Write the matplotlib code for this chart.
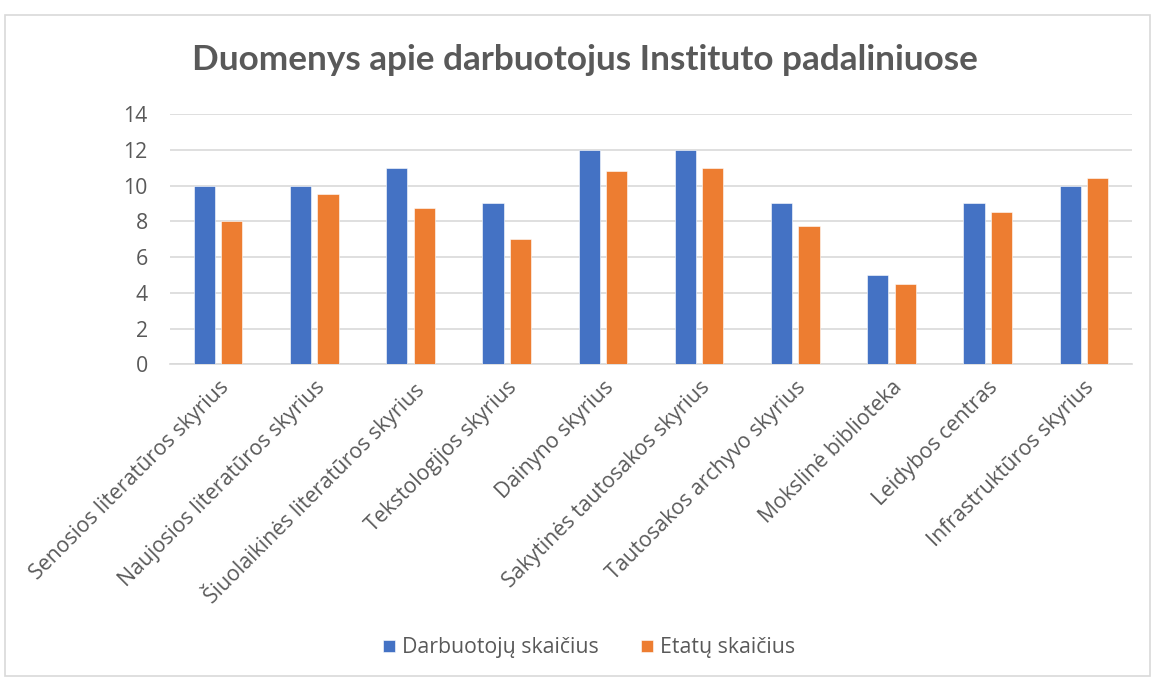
import numpy as np
import matplotlib.pyplot as plt
from matplotlib.patches import Rectangle

categories = ['Senosios literatūros skyrius', 'Naujosios literatūros skyrius',
              'Šiuolaikinės literatūros skyrius', 'Tekstologijos skyrius',
              'Dainyno skyrius', 'Sakytinės tautosakos skyrius',
              'Tautosakos archyvo skyrius', 'Mokslinė biblioteka',
              'Leidybos centras', 'Infrastruktūros skyrius']
darbuotoju = [10, 10, 11, 9, 12, 12, 9, 5, 9, 10]
etatu = [8, 9.5, 8.75, 7, 10.8, 11, 7.75, 4.5, 8.5, 10.4]
series_names = ['Darbuotojų skaičius', 'Etatų skaičius']

plt.rcParams['font.family'] = ['Open Sans', 'DejaVu Sans']
grey = '#595959'

fig = plt.figure(figsize=(11.51, 6.77), dpi=100)
ax = fig.add_axes([170/1151, 1 - 364.3/677, 962/1151, 250.3/677])

x = np.arange(len(categories))
w = 0.22
ax.bar(x - 0.142, darbuotoju, w, color='#4472c4', edgecolor='white', linewidth=0.4,
       label=series_names[0], zorder=3)
ax.bar(x + 0.142, etatu, w, color='#ed7d31', edgecolor='white', linewidth=0.4,
       label=series_names[1], zorder=3)

ax.set_xlim(-0.5, len(categories) - 0.5)
ax.set_ylim(0, 14)
ax.set_yticks(range(0, 15, 2))
ax.yaxis.grid(True, color='#d9d9d9', linewidth=1.2, zorder=0)
for s in ['top', 'right', 'left']:
    ax.spines[s].set_visible(False)
ax.spines['bottom'].set_color('#d9d9d9')
ax.spines['bottom'].set_linewidth(1.2)
ax.tick_params(axis='both', length=0, colors=grey, labelsize=15.3)
ax.tick_params(axis='y', pad=16)
ax.set_xticks(x)
ax.set_xticklabels(categories, rotation=45, ha='right', rotation_mode='anchor')
ax.tick_params(axis='x', pad=9)

fig.text(0.508, 0.911, 'Duomenys apie darbuotojus Instituto padaliniuose',
         ha='center', va='center', fontsize=25.3, fontweight='bold', color=grey,
         family=['Lato', 'DejaVu Sans'])

fig.legend(loc='center', bbox_to_anchor=(0.512, 1 - 648/677), ncol=2, frameon=False,
           fontsize=15.3, labelcolor=grey, handlelength=0.55, handleheight=0.55,
           handletextpad=0.35, columnspacing=2.0)

fig.patches.append(Rectangle((5/1151, 1/677), 1 - 6/1151, 1 - 16/677, transform=fig.transFigure,
                             fill=False, edgecolor='#d9d9d9', linewidth=1.2))

fig.savefig('out.png', dpi=100)
